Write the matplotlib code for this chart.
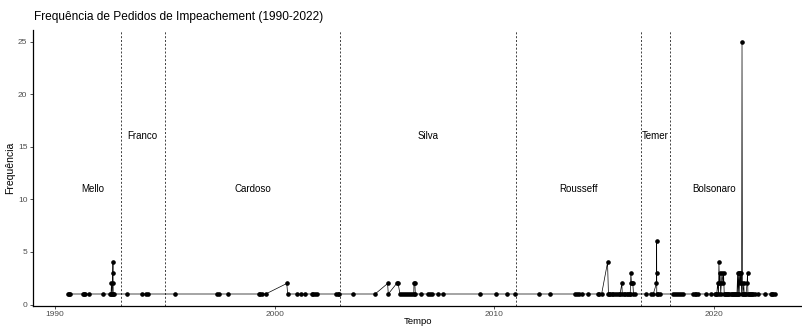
import matplotlib
matplotlib.use("Agg")
import matplotlib.pyplot as plt

plt.rcParams['font.family'] = ['Liberation Sans', 'DejaVu Sans']

# Data: decimal year of each date and number of impeachment requests
anos = [
    1990.59, 1990.64, 1990.68, 1991.27, 1991.32, 1991.37, 1991.55, 1992.18,
    1992.50, 1992.55, 1992.57, 1992.60, 1992.62, 1992.63, 1992.64, 1992.65, 1992.67,
    1993.28, 1993.95, 1994.13, 1994.22, 1995.48,
    1997.36, 1997.45, 1997.86, 1999.27, 1999.34, 1999.41, 1999.59,
    2000.55, 2000.59, 2001.00, 2001.18, 2001.38, 2001.68, 2001.74, 2001.83, 2001.94,
    2002.79, 2002.86, 2002.93, 2003.55, 2004.57,
    2005.14, 2005.17, 2005.55, 2005.62, 2005.70, 2005.79, 2005.88, 2005.97,
    2006.06, 2006.16, 2006.25, 2006.33, 2006.34, 2006.38, 2006.40, 2006.66,
    2006.96, 2007.05, 2007.14, 2007.45, 2007.65, 2009.34, 2010.07, 2010.59, 2010.94,
    2012.05, 2012.53, 2013.67, 2013.76, 2013.85, 2013.97, 2014.27,
    2014.70, 2014.78, 2014.88, 2015.15, 2015.19, 2015.22, 2015.28, 2015.35,
    2015.42, 2015.50, 2015.57, 2015.65, 2015.72, 2015.80, 2015.82, 2015.88,
    2015.95, 2016.02, 2016.10, 2016.15, 2016.18, 2016.20, 2016.21, 2016.24,
    2016.30, 2016.33, 2016.40,
    2016.90, 2017.11, 2017.23, 2017.375, 2017.38, 2017.385, 2017.39, 2017.45, 2017.52,
    2018.13, 2018.22, 2018.31, 2018.40, 2018.49, 2018.58,
    2019.04, 2019.11, 2019.18, 2019.27, 2019.63, 2019.84,
    2020.02, 2020.07, 2020.12, 2020.16, 2020.20, 2020.22, 2020.24, 2020.27,
    2020.30, 2020.33, 2020.36, 2020.40, 2020.43, 2020.46, 2020.50, 2020.55,
    2020.60, 2020.65, 2020.70, 2020.75, 2020.80, 2020.85, 2020.90, 2020.95,
    2021.00, 2021.04, 2021.07, 2021.09, 2021.12, 2021.14, 2021.17, 2021.19,
    2021.22, 2021.25, 2021.27, 2021.29, 2021.31, 2021.35, 2021.37, 2021.40,
    2021.45, 2021.50, 2021.52, 2021.54, 2021.58, 2021.63, 2021.68, 2021.73,
    2021.78, 2021.86, 2022.00, 2022.32, 2022.58, 2022.64, 2022.70, 2022.77,
]
freq = [
    1, 1, 1, 1, 1, 1, 1, 1,
    1, 1, 2, 1, 2, 3, 4, 1, 1,
    1, 1, 1, 1, 1,
    1, 1, 1, 1, 1, 1, 1,
    2, 1, 1, 1, 1, 1, 1, 1, 1,
    1, 1, 1, 1, 1,
    2, 1, 2, 2, 1, 1, 1, 1,
    1, 1, 1, 1, 2, 2, 1, 1,
    1, 1, 1, 1, 1, 1, 1, 1, 1,
    1, 1, 1, 1, 1, 1, 1,
    1, 1, 1, 4, 1, 1, 1, 1,
    1, 1, 1, 1, 1, 2, 1, 1,
    1, 1, 1, 1, 1, 2, 3, 2,
    2, 1, 1,
    1, 1, 1, 2, 3, 6, 1, 1, 1,
    1, 1, 1, 1, 1, 1,
    1, 1, 1, 1, 1, 1,
    1, 1, 1, 2, 1, 4, 2, 3,
    1, 2, 3, 2, 3, 1, 1, 1,
    1, 1, 1, 1, 1, 1, 1, 1,
    1, 1, 3, 1, 3, 1, 3, 2,
    3, 1, 25, 2, 1, 2, 1, 1,
    1, 2, 3, 1, 1, 1, 1, 1,
    1, 1, 1, 1, 1, 1, 1, 1,
]

# Presidential transitions and labels
transicoes = [1992.99, 1994.99, 2002.99, 2010.99, 2016.67, 2018.0]
presidentes = ["Mello", "Franco", "Cardoso", "Silva", "Rousseff", "Temer", "Bolsonaro"]
pos_rotulos = [1991.7, 1993.99, 1998.99, 2006.99, 2013.83, 2017.33, 2020.0]
alt_rotulos = [11, 16, 11, 16, 11, 16, 11]

fig = plt.figure(figsize=(8.02, 3.26), dpi=100)
ax = fig.add_axes([33 / 802, (326 - 306.2) / 326, 1 - 33 / 802, (306.2 - 30) / 326])

ax.plot(anos, freq, color='black', lw=0.5, zorder=3)
ax.plot(anos, freq, 'o', color='black', markersize=2.3, zorder=4)

for t in transicoes:
    ax.axvline(t, color='#222222', lw=0.6, ls=(0, (2.4, 2.2)), zorder=2)

for nome, xp, yp in zip(presidentes, pos_rotulos, alt_rotulos):
    ax.text(xp, yp, nome, ha='center', va='center', fontsize=7, color='black')

ax.set_xlim(1989.0, 2024.0)
ax.set_ylim(-0.16, 26.1)
ax.set_xticks([1990, 2000, 2010, 2020])
ax.set_yticks([0, 5, 10, 15, 20, 25])

for s in ['top', 'right']:
    ax.spines[s].set_visible(False)
for s in ['left', 'bottom']:
    ax.spines[s].set_color('black')
    ax.spines[s].set_linewidth(0.9)

ax.tick_params(axis='both', colors='#333333', labelcolor='#4D4D4D', labelsize=6,
               length=2.5, width=0.6, pad=1.5)
ax.tick_params(axis='x', pad=1.0)

ax.set_xlabel('Tempo', fontsize=6.8, labelpad=-1)
ax.set_ylabel('Frequência', fontsize=7.5, labelpad=2)

fig.text(34 / 802, 1 - 17 / 326, 'Frequência de Pedidos de Impeachement (1990-2022)',
         fontsize=8.6, ha='left', va='center', color='black')

fig.savefig('out.png', dpi=100)
